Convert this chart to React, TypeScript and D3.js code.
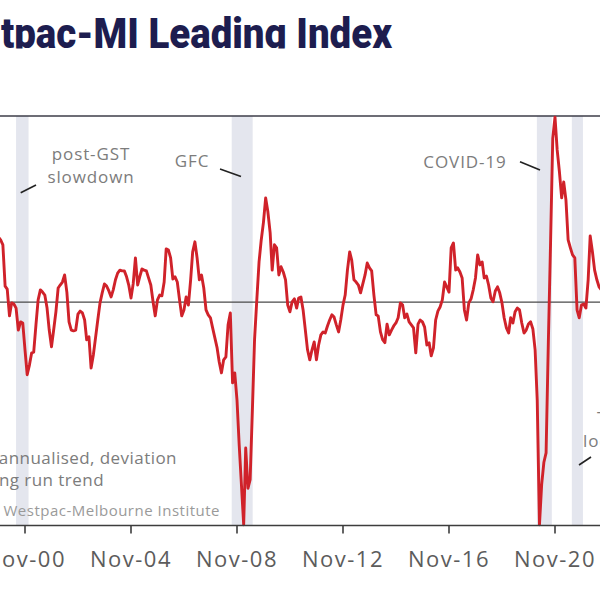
import React from "react";
import * as d3 from "d3";

// ---------- data ----------
const TITLE_HIDDEN = "Wes";
const TITLE_VISIBLE = "tpac-MI Leading Index";
const START_MONTH = "1999-11";
// Westpac-MI Leading Index, growth rate (monthly)
const leadingIndexValues = [
  1.75, 1.67, 1.54, 0.43, 0.35, -0.37, -0.02, -0.05, -0.16, -0.75, -0.53, -0.56,
  -1.28, -1.95, -1.69, -1.36, -1.34, -0.61, 0.06, 0.33, 0.27, 0.19, -0.16, -0.75,
  -1.2, -0.75, -0.26, 0.38, 0.46, 0.54, 0.73, 0.27, -0.53, -0.75, -0.77, -0.75,
  -0.32, -0.24, -0.29, -0.48, -1.01, -0.93, -1.77, -1.42, -0.96, -0.48, -0.02, 0.25,
  0.49, 0.43, 0.3, 0.14, 0.33, 0.6, 0.78, 0.86, 0.84, 0.84, 0.68, 0.46,
  0.11, 0.49, 1.19, 0.46, 0.68, 0.89, 0.86, 0.84, 0.65, 0.46, 0.01, -0.37,
  0.06, 0.19, 0.17, 0.54, 1.43, 1.4, 1.19, 0.62, 0.68, 0.54, 0.06, -0.37,
  -0.21, 0.14, -0.08, 0.6, 1.35, 1.62, 1.19, 0.6, 0.73, 0.38, -0.21, -0.34,
  -0.42, -0.69, -0.96, -1.23, -1.61, -1.9, -1.55, -1.47, -0.61, -0.29, -2.17, -1.9,
  -2.63, -3.83, -4.9, -5.98, -3.92, -5.0, -4.77, -2.9, -1.0, 0.06, 1.08, 1.67,
  2.15, 2.8, 2.42, 1.86, 0.86, 1.54, 1.46, 0.73, 0.95, 0.81, 0.6, -0.08,
  -0.26, 0.01, 0.09, -0.16, 0.11, 0.14, -0.21, -0.75, -1.28, -1.55, -1.28, -1.07,
  -1.55, -1.15, -0.88, -0.8, -0.83, -0.64, -0.48, -0.34, -0.4, -0.61, -0.8, -0.48,
  -0.08, 0.19, 0.86, 1.35, 1.13, 0.6, 0.54, 0.46, 0.25, 0.49, 0.73, 1.05,
  0.92, 0.84, 0.19, -0.34, -0.37, -0.8, -1.01, -1.09, -0.59, -0.88, -0.75, -0.64,
  -0.56, -0.42, -0.02, -0.08, -0.42, -0.32, -0.53, -0.61, -0.69, -1.36, -0.59, -0.48,
  -0.53, -0.67, -1.15, -1.09, -1.44, -1.23, -0.48, -0.24, -0.13, 0.06, 0.54, 0.41,
  0.27, 1.46, 1.59, 0.86, 0.92, 0.81, 0.65, -0.21, -0.48, -0.02, 0.09, 0.33,
  0.65, 1.27, 1.0, 1.08, 0.65, 0.7, 0.46, 0.11, 0.01, 0.3, 0.41, 0.25,
  -0.02, -0.42, -0.69, -0.83, -0.42, -0.56, -0.26, -0.16, -0.21, -0.56, -0.83, -0.75,
  -0.59, -0.53, -0.72, -1.28, -2.63, -5.98, -4.9, -4.3, -4.05, -1.1, 1.6, 4.4,
  4.97, 4.09, 3.5, 2.8, 3.23, 2.74, 1.67, 1.46, 1.27, 1.19, -0.21, -0.42,
  -0.08, -0.05, -0.16, 0.6, 1.78, 1.35, 0.86, 0.6, 0.41, 0.33,
];

const tickDates = ["1996-11", "2000-11", "2004-11", "2008-11", "2012-11", "2016-11", "2020-11", "2024-11"];
const tickLabels = ["Nov-96", "Nov-00", "Nov-04", "Nov-08", "Nov-12", "Nov-16", "Nov-20", "Nov-24"];

const episodeStarts = ["2000-07-01", "2008-08-20", "2020-02-25", "2021-06-21"];
const episodeEnds = ["2000-12-20", "2009-06-05", "2020-09-18", "2021-11-21"];

const Y_MIN = -6;
const Y_MAX = 5;

export default function App() {
  const W = 600;
  const H = 600;
  const parseM = d3.timeParse("%Y-%m");
  const parseD = d3.timeParse("%Y-%m-%d");

  const x = d3
    .scaleTime()
    .domain([parseM("2000-11") as Date, parseM("2020-11") as Date])
    .range([25, 555]);
  const y = d3.scaleLinear().domain([Y_MIN, Y_MAX]).range([525.5, 116]);

  const start = parseM(START_MONTH) as Date;
  const data = leadingIndexValues.map((v, i) => ({
    date: d3.timeMonth.offset(start, i),
    value: v,
  }));

  const line = d3
    .line<{ date: Date; value: number }>()
    .x((d) => x(d.date))
    .y((d) => y(d.value));

  const bands = episodeStarts.map((s, i) => ({
    x0: x(parseD(s) as Date),
    x1: x(parseD(episodeEnds[i]) as Date),
  }));

  const labelFont = "'Open Sans', 'Noto Sans', sans-serif";
  const annColor = "#7c7c7c";
  const yTop = y(Y_MAX);
  const yBot = y(Y_MIN);

  return (
    <svg
      width={W}
      height={H}
      viewBox={`0 0 ${W} ${H}`}
      style={{ position: "absolute", left: 0, top: 0, background: "#fff", display: "block" }}
    >
      <defs>
        <clipPath id="titleClip">
          <rect x={0} y={0} width={W} height={48.5} />
        </clipPath>
      </defs>
      <rect x={0} y={0} width={W} height={H} fill="#fff" />

      {/* title */}
      <g clipPath="url(#titleClip)">
        <text
          x={0}
          y={48}
          textAnchor="end"
          fontFamily="Roboto, 'DejaVu Sans', sans-serif"
          fontWeight={900}
          fontSize={43}
          fill="#1d1d4f"
        >
          {TITLE_HIDDEN}
        </text>
        <text
          x={1}
          y={48}
          textLength={391}
          lengthAdjust="spacingAndGlyphs"
          fontFamily="Roboto, 'DejaVu Sans', sans-serif"
          fontWeight={900}
          fontSize={43}
          fill="#1d1d4f"
        >
          {TITLE_VISIBLE}
        </text>
      </g>

      {/* shaded episodes */}
      {bands.map((b, i) => (
        <rect key={i} x={b.x0} y={yTop} width={b.x1 - b.x0} height={yBot - yTop} fill="#e4e6ee" />
      ))}

      {/* frame lines */}
      <line x1={0} x2={W} y1={yTop} y2={yTop} stroke="#3d3d48" strokeWidth={1.6} />
      <line x1={0} x2={W} y1={y(0)} y2={y(0)} stroke="#4a4a4a" strokeWidth={1.2} />

      {/* series */}
      <path d={line(data) || ""} fill="none" stroke="#d0222a" strokeWidth={2.9} strokeLinejoin="round" />

      {/* x axis */}
      <line x1={0} x2={W} y1={yBot} y2={yBot} stroke="#3d3d3d" strokeWidth={1.6} />
      {tickDates.map((t, i) => {
        const tx = x(parseM(t) as Date);
        return (
          <g key={t}>
            <line x1={tx} x2={tx} y1={yBot} y2={yBot + 8} stroke="#3d3d3d" strokeWidth={1.6} />
            <text
              x={tx}
              y={567}
              textAnchor="middle"
              fontFamily={labelFont}
              fontSize={22}
              letterSpacing={1.5}
              fill="#5c5c5c"
            >
              {tickLabels[i]}
            </text>
          </g>
        );
      })}

      {/* annotations */}
      <g fontFamily={labelFont} fontSize={17} fill={annColor} letterSpacing={0.9}>
        <text x={91} y={160} textAnchor="middle">post-GST</text>
        <text x={91} y={182.5} textAnchor="middle">slowdown</text>
        <text x={192} y={166.5} textAnchor="middle">GFC</text>
        <text x={465} y={168} textAnchor="middle">COVID-19</text>
        <text x={597} y={424}>The Delta</text>
        <text x={583} y={446.5}>lockdowns</text>
      </g>
      <g fontFamily={labelFont} fontSize={17} fill={annColor} letterSpacing={0.45}>
        <text x={177} y={463.5} textAnchor="end">%, 6mths annualised, deviation</text>
        <text x={104} y={486} textAnchor="end">from long run trend</text>
      </g>
      <text
        x={220}
        y={515.5}
        textAnchor="end"
        fontFamily={labelFont}
        fontSize={15}
        fill="#9a9a9a"
        letterSpacing={0.5}
      >
        Sources: Westpac-Melbourne Institute
      </text>

      {/* leader lines */}
      <g stroke="#222" strokeWidth={1.6}>
        <line x1={20.7} y1={192.7} x2={36} y2={185} />
        <line x1={220} y1={169} x2={241} y2={176.5} />
        <line x1={520} y1={161.7} x2={540} y2={170} />
        <line x1={579} y1={465} x2={591} y2={457} />
      </g>
    </svg>
  );
}
